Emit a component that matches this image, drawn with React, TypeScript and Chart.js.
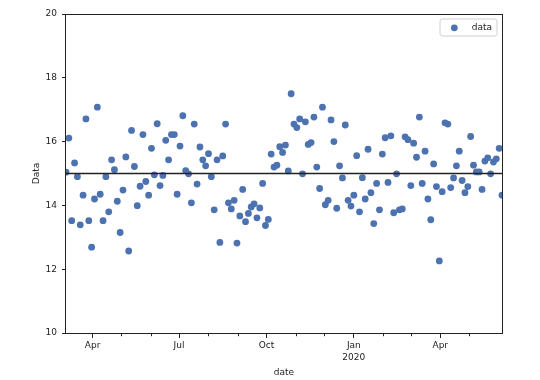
import React, { useEffect, useRef } from "react";
import { Chart, registerables } from "chart.js";

Chart.register(...registerables);

// Observation dates (every third day)
const dates: string[] = [
  "2019-03-04", "2019-03-07", "2019-03-10", "2019-03-13", "2019-03-16", "2019-03-19", "2019-03-22", "2019-03-25", "2019-03-28", "2019-03-31",
  "2019-04-03", "2019-04-06", "2019-04-09", "2019-04-12", "2019-04-15", "2019-04-18", "2019-04-21", "2019-04-24", "2019-04-27", "2019-04-30",
  "2019-05-03", "2019-05-06", "2019-05-09", "2019-05-12", "2019-05-15", "2019-05-18", "2019-05-21", "2019-05-24", "2019-05-27", "2019-05-30",
  "2019-06-02", "2019-06-05", "2019-06-08", "2019-06-11", "2019-06-14", "2019-06-17", "2019-06-20", "2019-06-23", "2019-06-26", "2019-06-29",
  "2019-07-02", "2019-07-05", "2019-07-08", "2019-07-11", "2019-07-14", "2019-07-17", "2019-07-20", "2019-07-23", "2019-07-26", "2019-07-29",
  "2019-08-01", "2019-08-04", "2019-08-07", "2019-08-10", "2019-08-13", "2019-08-16", "2019-08-19", "2019-08-22", "2019-08-25", "2019-08-28", "2019-08-31",
  "2019-09-03", "2019-09-06", "2019-09-09", "2019-09-12", "2019-09-15", "2019-09-18", "2019-09-21", "2019-09-24", "2019-09-27", "2019-09-30",
  "2019-10-03", "2019-10-06", "2019-10-09", "2019-10-12", "2019-10-15", "2019-10-18", "2019-10-21", "2019-10-24", "2019-10-27", "2019-10-30",
  "2019-11-02", "2019-11-05", "2019-11-08", "2019-11-11", "2019-11-14", "2019-11-17", "2019-11-20", "2019-11-23", "2019-11-26", "2019-11-29",
  "2019-12-02", "2019-12-05", "2019-12-08", "2019-12-11", "2019-12-14", "2019-12-17", "2019-12-20", "2019-12-23", "2019-12-26", "2019-12-29",
  "2020-01-01", "2020-01-04", "2020-01-07", "2020-01-10", "2020-01-13", "2020-01-16", "2020-01-19", "2020-01-22", "2020-01-25", "2020-01-28", "2020-01-31",
  "2020-02-03", "2020-02-06", "2020-02-09", "2020-02-12", "2020-02-15", "2020-02-18", "2020-02-21", "2020-02-24", "2020-02-27",
  "2020-03-01", "2020-03-04", "2020-03-07", "2020-03-10", "2020-03-13", "2020-03-16", "2020-03-19", "2020-03-22", "2020-03-25", "2020-03-28", "2020-03-31",
  "2020-04-03", "2020-04-06", "2020-04-09", "2020-04-12", "2020-04-15", "2020-04-18", "2020-04-21", "2020-04-24", "2020-04-27", "2020-04-30",
  "2020-05-03", "2020-05-06", "2020-05-09", "2020-05-12", "2020-05-15", "2020-05-18", "2020-05-21", "2020-05-24", "2020-05-27", "2020-05-30",
  "2020-06-02", "2020-06-05",
];

// Series values
const values: number[] = [
  15.04, 16.11, 13.52, 15.33, 14.90, 13.39, 14.32, 16.71, 13.52, 12.69,
  14.20, 17.08, 14.35, 13.52, 14.90, 13.80, 15.43, 15.12, 14.13, 13.15,
  14.48, 15.52, 12.57, 16.35, 15.22, 13.99, 14.60, 16.22, 14.75, 14.32,
  15.79, 14.96, 16.56, 14.62, 14.94, 16.04, 15.43, 16.22, 16.22, 14.35,
  15.86, 16.81, 15.09, 14.99, 14.08, 16.55, 14.67, 15.83, 15.43, 15.24,
  15.62, 14.90, 13.86, 15.43, 12.84, 15.55, 16.55, 14.08, 13.89, 14.16, 12.82,
  13.67, 14.50, 13.49, 13.75, 13.95, 14.05, 13.61, 13.92, 14.69, 13.37,
  13.56, 15.61, 15.20, 15.26, 15.84, 15.66, 15.89, 15.08, 17.50, 16.55,
  16.44, 16.71, 14.99, 16.62, 15.91, 15.97, 16.77, 15.20, 14.53, 17.08,
  14.02, 14.16, 16.68, 16.00, 13.91, 15.24, 14.86, 16.52, 14.16, 13.98,
  14.32, 15.56, 13.80, 14.87, 14.20, 15.76, 14.40, 13.43, 14.69, 13.86, 15.61,
  16.12, 14.72, 16.18, 13.77, 14.99, 13.86, 13.89, 16.15, 16.06,
  14.62, 15.95, 15.51, 16.77, 14.69, 15.70, 14.20, 13.55, 15.30, 14.59, 12.26,
  14.43, 16.59, 16.55, 14.56, 14.86, 15.24, 15.70, 14.78, 14.40, 14.59,
  16.16, 15.26, 15.05, 15.05, 14.50, 15.39, 15.49, 14.99, 15.36, 15.46,
  15.79, 14.32,
];

const referenceLevel = 15;
const seriesLabel = "data";
const xTitle = "date";
const yTitle = "Data";

const yTicks: number[] = [10, 12, 14, 16, 18, 20];
const majorTickDates: string[] = ["2019-04-01", "2019-07-01", "2019-10-01", "2020-01-01", "2020-04-01"];
const majorTickLabels: string[][] = [["Apr"], ["Jul"], ["Oct"], ["Jan", "2020"], ["Apr"]];
const minorTickDates: string[] = [
  "2019-05-01", "2019-06-01", "2019-08-01", "2019-09-01", "2019-11-01", "2019-12-01",
  "2020-02-01", "2020-03-01", "2020-05-01",
];

const FONT = "'DejaVu Sans', 'Liberation Sans', sans-serif";
const INK = "#222222";
const POINT = "#4C72B0";

const toMs = (s: string) => Date.UTC(+s.slice(0, 4), +s.slice(5, 7) - 1, +s.slice(8, 10));

export default function App() {
  const ref = useRef<HTMLCanvasElement>(null);

  useEffect(() => {
    if (!ref.current) return;
    const xs = dates.map(toMs);
    const xMin = xs[0];
    const xMax = xs[xs.length - 1];

    const framePlugin = {
      id: "frameAndLegend",
      afterDraw(chart: any) {
        const { ctx, chartArea: a, scales } = chart;
        const xs2 = scales.x;
        ctx.save();
        // frame
        ctx.strokeStyle = INK;
        ctx.lineWidth = 1;
        const l = Math.round(a.left) - 0.5;
        const t = Math.round(a.top) + 0.5;
        const r = Math.round(a.right) + 0.5;
        const b = Math.round(a.bottom) + 0.5;
        ctx.strokeRect(l, t, r - l, b - t);
        // minor ticks
        ctx.beginPath();
        minorTickDates.forEach((d) => {
          const px = Math.round(xs2.getPixelForValue(toMs(d))) + 0.5;
          ctx.moveTo(px, b);
          ctx.lineTo(px, b + 2.7);
        });
        ctx.stroke();
        // legend
        ctx.font = `9px ${FONT}`;
        const tw = ctx.measureText(seriesLabel).width;
        const bw = 31.7 + tw + 5;
        const bh = 17;
        const bx = a.right - 5 - bw;
        const by = a.top + 5;
        ctx.beginPath();
        const rad = 2.5;
        ctx.moveTo(bx + rad, by);
        ctx.lineTo(bx + bw - rad, by);
        ctx.quadraticCurveTo(bx + bw, by, bx + bw, by + rad);
        ctx.lineTo(bx + bw, by + bh - rad);
        ctx.quadraticCurveTo(bx + bw, by + bh, bx + bw - rad, by + bh);
        ctx.lineTo(bx + rad, by + bh);
        ctx.quadraticCurveTo(bx, by + bh, bx, by + bh - rad);
        ctx.lineTo(bx, by + rad);
        ctx.quadraticCurveTo(bx, by, bx + rad, by);
        ctx.closePath();
        ctx.fillStyle = "rgba(255,255,255,0.8)";
        ctx.fill();
        ctx.strokeStyle = "#d0d0d0";
        ctx.lineWidth = 1;
        ctx.stroke();
        ctx.fillStyle = POINT;
        ctx.beginPath();
        ctx.arc(bx + 14.3, by + bh / 2 + 0.3, 3.4, 0, Math.PI * 2);
        ctx.fill();
        ctx.fillStyle = INK;
        ctx.textBaseline = "middle";
        ctx.textAlign = "left";
        ctx.fillText(seriesLabel, bx + 31.7, by + bh / 2);
        ctx.restore();
      },
    };

    const chart = new Chart(ref.current, {
      type: "scatter",
      data: {
        datasets: [
          {
            type: "line",
            label: "mean",
            data: [
              { x: xMin, y: referenceLevel },
              { x: xMax, y: referenceLevel },
            ],
            borderColor: INK,
            borderWidth: 1.6,
            pointRadius: 0,
            fill: false,
            order: 0,
          } as any,
          {
            label: seriesLabel,
            data: xs.map((x, i) => ({ x, y: values[i] })),
            backgroundColor: POINT,
            borderColor: POINT,
            borderWidth: 0,
            pointRadius: 3.4,
            pointHoverRadius: 3.4,
            clip: 0,
            order: 1,
          } as any,
        ],
      },
      options: {
        responsive: false,
        animation: false,
        devicePixelRatio: 1,
        layout: { padding: { left: 0, right: 38, top: 14, bottom: 0 } },
        plugins: {
          legend: { display: false },
          tooltip: { enabled: false },
        },
        scales: {
          x: {
            type: "linear",
            min: xMin,
            max: xMax,
            afterBuildTicks: (s: any) => {
              s.ticks = majorTickDates.map((d) => ({ value: toMs(d) }));
            },
            afterFit: (s: any) => {
              s.height = 47;
            },
            ticks: {
              autoSkip: false,
              maxRotation: 0,
              padding: 2,
              color: INK,
              font: { family: FONT, size: 9, lineHeight: 1.3 },
              callback: (_v: any, i: number) => majorTickLabels[i],
            },
            grid: {
              drawOnChartArea: false,
              drawTicks: true,
              tickLength: 5,
              tickColor: INK,
              tickWidth: 1,
            },
            border: { display: false },
            title: {
              display: true,
              text: xTitle,
              color: INK,
              font: { family: FONT, size: 9, lineHeight: 1.2 },
              padding: { top: 0, bottom: 2 },
            },
          },
          y: {
            min: 10,
            max: 20,
            afterBuildTicks: (s: any) => {
              s.ticks = yTicks.map((v) => ({ value: v }));
            },
            afterFit: (s: any) => {
              s.width = 66;
            },
            ticks: {
              padding: 5,
              color: INK,
              font: { family: FONT, size: 9 },
              callback: (v: any) => String(v),
            },
            grid: {
              drawOnChartArea: false,
              drawTicks: true,
              tickLength: 4,
              tickColor: INK,
              tickWidth: 1,
            },
            border: { display: false },
            title: {
              display: true,
              text: yTitle,
              color: INK,
              font: { family: FONT, size: 9, lineHeight: 1.2 },
              padding: { top: 31, bottom: 0 },
            },
          },
        },
      },
      plugins: [framePlugin],
    });

    return () => chart.destroy();
  }, []);

  return (
    <div style={{ position: "fixed", left: 0, top: 0, width: 540, height: 380, background: "#fff" }}>
      <canvas ref={ref} width={540} height={380} style={{ display: "block", width: 540, height: 380 }} />
    </div>
  );
}
